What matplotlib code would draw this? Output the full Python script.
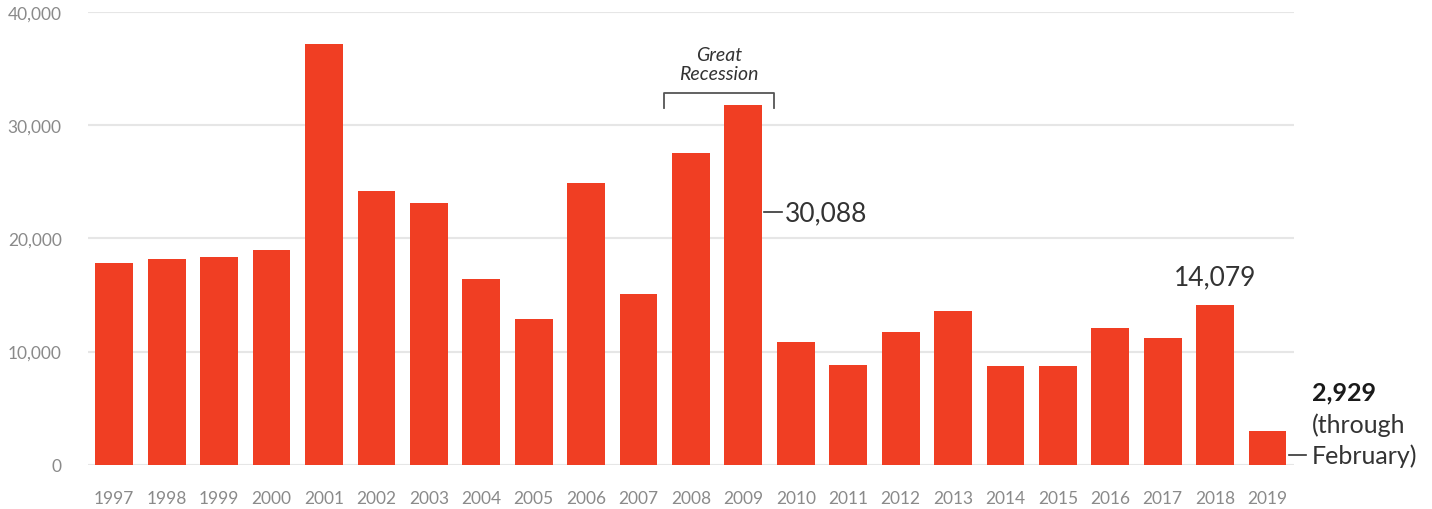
import numpy as np
import matplotlib.pyplot as plt

# data
years = [str(y) for y in range(1997, 2020)]
values = [17825, 18179, 18356, 18975, 37165, 24179, 23118, 16405, 12871, 24885,
          15080, 27535, 31776, 10839, 8807, 11723, 13578, 8719, 8719, 12076,
          11193, 14108, 2977]
yticks = [0, 10000, 20000, 30000, 40000]

red = "#f03e23"
grey = "#8a8a8a"
dark = "#333333"

plt.rcParams['font.family'] = ['Lato', 'DejaVu Sans']

fig = plt.figure(figsize=(14.32, 5.10), dpi=100)
ax = fig.add_axes([0.0615, 0.0869, 0.842, 0.887])

x = np.arange(len(years))
ax.bar(x, values, width=0.72, color=red, zorder=3)

ax.set_xlim(-0.5, len(years) - 0.5)
ax.set_ylim(0, 40000)
ax.set_yticks(yticks)
ax.set_yticklabels([f"{v:,}" for v in yticks])
ax.set_xticks(x)
ax.set_xticklabels(years)
ax.tick_params(axis='both', length=0, colors=grey, labelsize=12.5)
ax.tick_params(axis='y', pad=19)
ax.tick_params(axis='x', pad=18)
ax.grid(axis='y', color="#e6e6e6", linewidth=1.5, zorder=0)
for s in ax.spines.values():
    s.set_visible(False)

# Great Recession bracket (2008-2009)
i08 = years.index("2008")
i09 = years.index("2009")
bx0, bx1 = i08 - 0.36 - 0.16, i09 + 0.36 + 0.22
top = 32900
tick = 31500
ax.plot([bx0, bx0, bx1, bx1], [tick, top, top, tick], color="#555555",
        linewidth=1.3, clip_on=False, zorder=4)
ax.text((bx0 + bx1) / 2, 33800, "Great\nRecession", ha='center', va='bottom',
        style='italic', fontsize=14, color=dark, linespacing=1.15)

# 30,088 label
ax.plot([i09 + 0.4, i09 + 0.73], [22300, 22300], color=dark, linewidth=1.2,
        clip_on=False)
ax.text(i09 + 0.8, 22300, "30,088", ha='left', va='center', fontsize=19,
        color=dark)

# 14,079 label
i18 = years.index("2018")
ax.text(i18, 15500, "14,079", ha='center', va='bottom', fontsize=19, color=dark)

# 2019 label
i19 = years.index("2019")
ax.plot([i19 + 0.4, i19 + 0.73], [860, 860], color=dark, linewidth=1.2,
        clip_on=False)
ax.text(i19 + 0.85, 6400, "2,929", ha='left', va='center', fontsize=18,
        fontweight='bold', color="#1a1a1a")
ax.text(i19 + 0.85, 3600, "(through", ha='left', va='center', fontsize=18,
        color=dark)
ax.text(i19 + 0.85, 850, "February)", ha='left', va='center', fontsize=18,
        color=dark)

fig.savefig("out.png", dpi=100)
